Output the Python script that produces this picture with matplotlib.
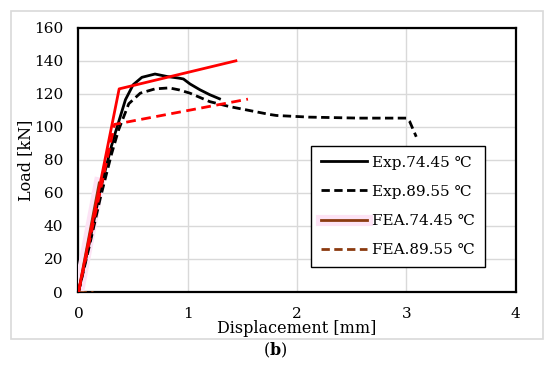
import matplotlib.pyplot as plt
import matplotlib.patheffects as pe
from matplotlib.patches import Rectangle

# --- Data ---
exp_7445_x = [0, 0.10, 0.20, 0.30, 0.335, 0.43, 0.50, 0.58, 0.70, 0.81, 0.92, 0.96, 1.02, 1.11, 1.20, 1.29]
exp_7445_y = [0, 30, 62, 88, 96, 116.5, 125.5, 130, 132, 130.5, 129.5, 129, 126, 122.5, 119.5, 117]

exp_8955_x = [0, 0.10, 0.20, 0.30, 0.366, 0.46, 0.565, 0.70, 0.83, 0.92, 1.02, 1.20, 1.38, 1.565, 1.75,
              1.81, 2.11, 2.57, 3.00, 3.03, 3.09]
exp_8955_y = [0, 28, 57, 83, 98, 114, 120.4, 123, 123.6, 122.4, 120.4, 115.3, 112.3, 109.9, 107.5,
              106.9, 105.9, 105.3, 105.3, 103.2, 94]

fea_7445_x = [0, 0.372, 1.44]
fea_7445_y = [0, 123, 140]
fea_8955_x = [0, 0.33, 1.55]
fea_8955_y = [0, 101.5, 116.8]

# legend-only brown FEA traces (as drawn near the origin in the source)
fea_leg_7445_x = [0, 0.19]
fea_leg_7445_y = [0, 66]
fea_leg_8955_x = [0, 0.13]
fea_leg_8955_y = [0, 0]

x_ticks = [0, 1, 2, 3, 4]
y_ticks = [0, 20, 40, 60, 80, 100, 120, 140, 160]

plt.rcParams.update({
    'font.family': ['DejaVu Serif', 'DejaVu Sans'],
    'font.size': 11,
    'mathtext.fontset': 'dejavuserif',
})

fig = plt.figure(figsize=(5.5, 3.68), dpi=100)
ax = fig.add_axes([0.1427, 0.2065, 0.795, 0.718])

# light grey outer frame
fig.patches.append(Rectangle((11 / 550, 1 - 339 / 368), 532 / 550, 328 / 368,
                             transform=fig.transFigure, fill=False,
                             edgecolor='#d9d9d9', linewidth=1.2))

brown = '#8b3a0f'
halo = [pe.withStroke(linewidth=8, foreground='#fde3f5')]

ax.plot(exp_7445_x, exp_7445_y, color='black', lw=2, label='Exp.74.45 ℃', zorder=4)
ax.plot(exp_8955_x, exp_8955_y, color='black', lw=2, ls=(0, (3, 1.6)), label='Exp.89.55 ℃', zorder=4)
ax.plot(fea_leg_7445_x, fea_leg_7445_y, color=brown, lw=2, label='FEA.74.45 ℃',
        path_effects=halo, zorder=3)
ax.plot(fea_leg_8955_x, fea_leg_8955_y, color=brown, lw=2, ls=(0, (3, 1.6)), label='FEA.89.55 ℃',
        zorder=3)
ax.plot(fea_7445_x, fea_7445_y, color='#ff0000', lw=2, zorder=5)
ax.plot(fea_8955_x, fea_8955_y, color='#ff0000', lw=2, ls=(0, (3.5, 2)), zorder=5)

ax.set_xlim(0, 4)
ax.set_ylim(0, 160)
ax.set_xticks(x_ticks)
ax.set_yticks(y_ticks)
ax.grid(True, color='#d9d9d9', lw=1)
ax.set_axisbelow(True)
ax.tick_params(length=0, pad=11, labelsize=11)
for s in ax.spines.values():
    s.set_linewidth(1.6)
    s.set_color('black')

ax.set_xlabel('Displacement [mm]', fontsize=11.5, labelpad=-1)
ax.set_ylabel('Load [kN]', fontsize=11.5, labelpad=0)

leg = ax.legend(loc='upper left', bbox_to_anchor=(0.515, 0.583), frameon=True, fancybox=False,
                edgecolor='black', framealpha=1, fontsize=11, handlelength=3.0,
                labelspacing=1.0, borderpad=0.65, handletextpad=0.35)
leg.get_frame().set_linewidth(1)

fig.text(0.5, 1 - 350 / 368, r'($\mathbf{b}$)', ha='center', va='center', fontsize=11.5)

fig.savefig('out.png', dpi=100)
